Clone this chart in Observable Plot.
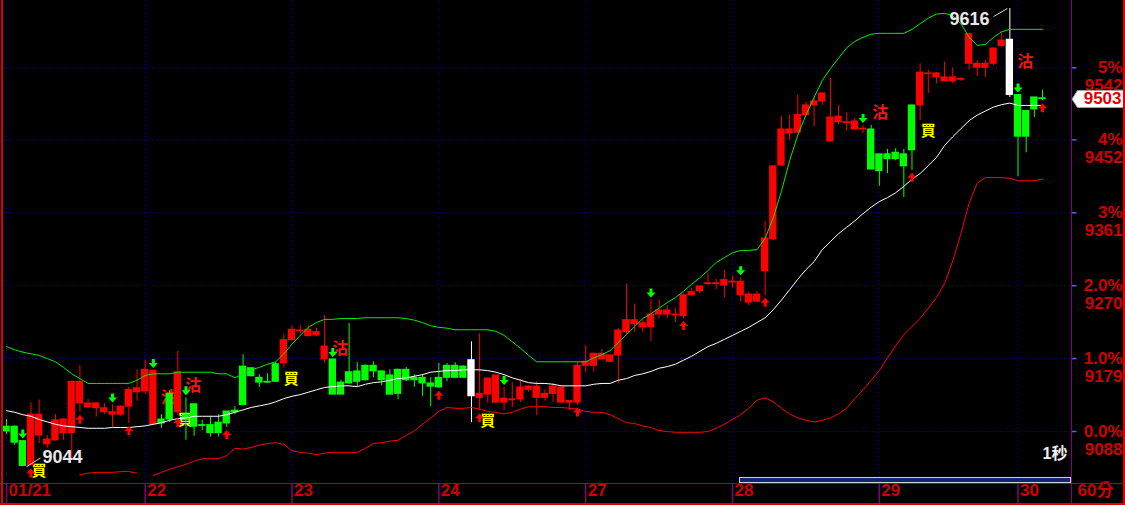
<!DOCTYPE html>
<html><head><meta charset="utf-8">
<script src="https://cdn.jsdelivr.net/npm/d3@7"></script>
<script src="https://cdn.jsdelivr.net/npm/@observablehq/plot@0.6"></script>
<style>
html,body{margin:0;padding:0;background:#000;}
#wrap{position:relative;width:1125px;height:505px;overflow:hidden;background:#000;}
#wrap svg{position:absolute;left:0;top:0;}
.chrome{position:absolute;pointer-events:none;box-sizing:border-box;}
</style></head><body>
<div id="wrap"></div>
<script>
// ---- data (60-minute bars) ----
const dayLabels = ["01/21","22","23","24","27","28","29","30"];
const dayStart  = [0,17,35,53,71,89,107,124];
const tickPrices = [9088,9179,9270,9361,9452,9542];
const tickPct    = ["0.0%","1.0%","2.0%","3%","4%","5%"];

const open = [9094,9094,9076,9046,9083,9072,9077,9086,9086,9123,
9118,9117,9112,9109,9109,9119,9137,9138,9097,9103,
9135,9112,9109,9122,9096,9096,9099,9113,9114,9169,
9167,9155,9150,9172,9173,9202,9213,9207,9208,9178,
9178,9149,9162,9163,9170,9170,9163,9158,9165,9165,
9155,9155,9148,9155,9170,9170,9169,9177,9130,9134,
9124,9124,9127,9128,9140,9130,9130,9135,9124,9124,
9124,9170,9170,9178,9175,9183,9212,9222,9218,9218,
9234,9234,9233,9232,9258,9263,9272,9272,9270,9274,
9258,9249,9250,9288,9328,9420,9460,9461,9483,9495,
9500,9450,9474,9473,9465,9465,9465,9434,9434,9436,
9434,9439,9495,9534,9530,9525,9525,9527,9547,9542,
9542,9547,9569,9577,9508,9488,9505,9504];
const high = [9103,9095,9076,9124,9127,9083,9109,9104,9151,9170,
9128,9124,9123,9121,9120,9143,9165,9177,9164,9109,
9139,9188,9130,9122,9102,9107,9109,9113,9119,9184,
9167,9159,9160,9174,9209,9220,9220,9220,9217,9233,
9178,9152,9223,9174,9171,9175,9164,9165,9166,9168,
9159,9159,9155,9173,9173,9174,9170,9200,9210,9155,
9158,9143,9149,9153,9145,9150,9140,9148,9143,9126,
9174,9195,9186,9190,9183,9217,9272,9247,9228,9252,
9252,9245,9242,9260,9267,9269,9285,9278,9289,9282,
9280,9262,9263,9350,9419,9481,9483,9508,9499,9505,
9510,9529,9495,9486,9479,9470,9470,9434,9440,9441,
9440,9495,9547,9539,9536,9549,9542,9530,9585,9551,
9551,9567,9586,9616,9508,9488,9505,9514];
const low = [9084,9071,9044,9045,9073,9067,9076,9077,9054,9112,
9117,9106,9109,9093,9107,9098,9126,9134,9097,9092,
9099,9108,9077,9082,9089,9081,9081,9093,9109,9120,
9156,9143,9148,9150,9167,9201,9209,9206,9207,9173,
9134,9134,9147,9144,9151,9155,9145,9134,9128,9150,
9143,9132,9119,9142,9150,9154,9155,9099,9114,9123,
9124,9114,9118,9124,9137,9108,9126,9124,9124,9114,
9121,9162,9162,9178,9175,9148,9208,9212,9212,9200,
9229,9229,9224,9229,9258,9260,9270,9265,9255,9267,
9250,9245,9250,9258,9326,9420,9451,9461,9482,9468,
9495,9450,9471,9463,9465,9460,9415,9394,9410,9426,
9380,9414,9476,9510,9522,9525,9522,9525,9539,9531,
9530,9545,9568,9505,9406,9436,9480,9501];
const close = [9088,9074,9045,9109,9109,9078,9102,9103,9150,9150,
9123,9123,9117,9112,9119,9140,9142,9165,9164,9098,
9103,9162,9102,9094,9095,9086,9086,9098,9112,9121,
9157,9149,9149,9150,9202,9215,9214,9215,9212,9194,
9134,9134,9148,9150,9152,9163,9152,9134,9135,9152,
9152,9148,9144,9143,9155,9155,9155,9132,9135,9154,
9158,9129,9128,9143,9144,9144,9135,9144,9143,9126,
9170,9175,9185,9185,9183,9214,9227,9227,9223,9234,
9239,9239,9234,9258,9262,9269,9273,9273,9277,9275,
9275,9259,9259,9329,9419,9465,9465,9483,9495,9500,
9510,9480,9481,9474,9475,9466,9415,9413,9428,9428,
9419,9495,9536,9535,9535,9530,9530,9528,9584,9547,
9547,9566,9576,9508,9456,9456,9490,9503];

// Bollinger bands
const upper = [9194,9190,9187,9185,9183,9179,9175,9168,9160,9154,
9148,9148,9148,9148,9148,9148,9152,9158,9160,9160,
9160,9162,9162,9162,9162,9162,9160,9160,9155,9160,
9165,9168,9172,9175,9185,9197,9208,9218,9224,9228,
9228,9229,9229,9229,9230,9230,9230,9230,9230,9229,
9227,9224,9220,9218,9217,9215,9215,9215,9215,9215,
9213,9208,9200,9192,9183,9175,9175,9175,9175,9175,
9175,9175,9180,9184,9189,9199,9209,9219,9229,9235,
9242,9249,9255,9263,9272,9280,9289,9299,9305,9311,
9314,9314,9315,9329,9355,9388,9426,9458,9483,9505,
9526,9541,9554,9567,9575,9580,9584,9585,9585,9585,
9585,9590,9597,9604,9609,9610,9607,9597,9580,9570,
9571,9580,9587,9590,9590,9590,9590,9590];
const middle = [9114,9112,9109,9107,9103,9100,9097,9095,9094,9093,
9092,9092,9092,9093,9093,9093,9094,9095,9097,9099,
9102,9104,9105,9107,9107,9107,9107,9109,9112,9115,
9118,9120,9122,9125,9129,9132,9134,9137,9140,9143,
9144,9145,9145,9144,9147,9149,9150,9152,9154,9155,
9157,9159,9162,9163,9164,9164,9165,9165,9165,9164,
9162,9159,9155,9152,9149,9148,9148,9147,9145,9145,
9145,9145,9147,9148,9148,9152,9154,9158,9160,9163,
9167,9169,9172,9177,9182,9188,9194,9198,9203,9208,
9213,9218,9224,9230,9240,9252,9265,9278,9290,9300,
9315,9325,9335,9343,9351,9360,9368,9375,9380,9386,
9394,9403,9410,9420,9430,9445,9456,9466,9476,9483,
9488,9493,9496,9498,9495,9495,9495,9495];
const lowerBand = [9034,null,null,null,null,null,null,null,null,9034,
9036,9037,9037,9037,9038,9038,9036,null,9033,9037,
9041,9044,9047,9051,9054,9054,9054,9058,9067,9066,
9068,9071,9073,9074,9072,9064,9062,9061,9059,9061,
9062,9062,9062,9062,9067,9073,9074,9076,9077,9083,
9089,9097,9105,9113,9118,9117,9117,9118,9116,9113,
9112,9110,9112,9116,9119,9119,9119,9118,9118,9117,
9116,9113,9112,9112,9109,9104,9099,9098,9095,9093,
9089,9088,9087,9087,9087,9087,9088,9092,9097,9103,
9109,9117,9127,9130,9125,9117,9110,9105,9102,9100,
9102,9105,9110,9117,9129,9140,9152,9164,9180,9195,
9209,9219,9229,9242,9255,9273,9301,9335,9373,9398,
9405,9405,9405,9404,9401,9401,9401,9403];

// trading state runs: L = long (red), S = short (green), X = switch bar (white)
const stateRuns = [["S",3],["L",16],["S",2],["L",1],["S",12],["L",6],["S",17],["X",1],
                   ["L",48],["S",6],["L",11],["X",1],["S",4]];
const sellArrowBars = [2,13,18,22,40,61,79,90,105,124];
const buyArrowBars  = [3,9,15,21,27,53,58,70,83,93,111,127];
const sellLabels = [[19.9,9130],[22.9,9145],[40.9,9191],[107.1,9486],[124.9,9549]];
const buyLabels  = [[3.98,9038],[21.9,9102],[34.9,9153],[59.0,9101],[113.0,9463]];
const lowMark  = {text:"9044", i1:2.45, v1:9044, i2:4.17, v2:9055, ti:4.41, tv:9056};
const highMark = {text:"9616", i1:122.7, v1:9616, i2:121.0, v2:9606, ti:120.5, tv:9602};

// ---- build ----
const colorOf = {L:"#ff0000", S:"#00ff00", X:"#ffffff"};
const state = stateRuns.flatMap(([s,k]) => Array(k).fill(s));
const bars = open.map((o,i) => ({i, o, h:high[i], l:low[i], c:close[i], col:colorOf[state[i]]}));
const series = arr => arr.map((v,i) => ({i, v}));
const lastClose = close[close.length-1];

const arrowDown = {draw(ctx){ctx.moveTo(-1.5,-4.5);ctx.lineTo(1.5,-4.5);ctx.lineTo(1.5,-0.5);ctx.lineTo(4.5,-0.5);ctx.lineTo(0,4.5);ctx.lineTo(-4.5,-0.5);ctx.lineTo(-1.5,-0.5);ctx.closePath();}};
const arrowUp = {draw(ctx){ctx.moveTo(-1.5,4.5);ctx.lineTo(1.5,4.5);ctx.lineTo(1.5,0.5);ctx.lineTo(4.5,0.5);ctx.lineTo(0,-4.5);ctx.lineTo(-4.5,0.5);ctx.lineTo(-1.5,0.5);ctx.closePath();}};
const vStub = {draw(ctx){ctx.moveTo(0,0);ctx.lineTo(0,20);}};
const hStub = {draw(ctx){ctx.moveTo(0,0);ctx.lineTo(5,0);}};
const tag = {draw(ctx){ctx.moveTo(0.5,0);ctx.lineTo(6,-8.5);ctx.lineTo(52,-8.5);ctx.lineTo(52,8.5);ctx.lineTo(6,8.5);ctx.closePath();}};

const axisFont = {fill:"#d00000", fontSize:17, fontWeight:"bold", fontFamily:"Liberation Sans, Arial, Noto Sans CJK TC, sans-serif"};
const markFont = {fill:"#e8e8e8", fontSize:18, fontWeight:"bold", fontFamily:"Liberation Sans, Arial, sans-serif"};
const grid = {stroke:"#0000b8", strokeDasharray:"1,3", strokeWidth:1};

const chart = Plot.plot({
  width:1125, height:505,
  marginLeft:4, marginRight:54, marginTop:0, marginBottom:22,
  style:{background:"#000", color:"#fff", overflow:"visible"},
  x:{domain:[0,127], range:[6,1042], axis:null},
  y:{domain:[9088,9542], range:[431,67.3], axis:null},
  color:{type:"identity"},
  marks:[
    Plot.ruleY(tickPrices, {y:d=>d, ...grid}),
    Plot.ruleX(dayStart, {x:d=>d, ...grid}),
    Plot.text(sellLabels, {x:d=>d[0], y:d=>d[1], text:()=>"沽", fill:"#ff1010", fontSize:16, fontWeight:"bold", fontFamily:"Noto Sans CJK TC, sans-serif"}),
    Plot.text(buyLabels, {x:d=>d[0], y:d=>d[1], text:()=>"買", fill:"#ffff00", fontSize:15, fontWeight:"bold", fontFamily:"Noto Sans CJK TC, sans-serif", clip:true}),
    Plot.ruleX(bars, {x:"i", y1:"l", y2:"h", stroke:"col", strokeWidth:1}),
    Plot.rect(bars, {x1:d=>d.i-0.45, x2:d=>d.i+0.45, y1:"o", y2:"c", fill:"col", insetTop:-0.5, insetBottom:-0.5}),
    Plot.line(series(upper), {x:"i", y:"v", stroke:"#00ee00", strokeWidth:1}),
    Plot.line(series(middle), {x:"i", y:"v", stroke:"#ffffff", strokeWidth:1}),
    Plot.line(series(lowerBand), {x:"i", y:"v", stroke:"#ff0000", strokeWidth:1, clip:true}),
    Plot.dot(sellArrowBars, {x:d=>d, y:d=>high[d], dy:-7, symbol:arrowDown, fill:"#00ff00", r:5}),
    Plot.dot(buyArrowBars, {x:d=>d, y:d=>low[d], dy:7, symbol:arrowUp, fill:"#ff0000", r:5}),
    Plot.link([lowMark, highMark], {x1:"i1", y1:"v1", x2:"i2", y2:"v2", stroke:"#d8d8d8", strokeWidth:1}),
    Plot.text([lowMark], {x:"ti", y:"tv", text:"text", textAnchor:"start", ...markFont}),
    Plot.text([highMark], {x:"ti", y:"tv", text:"text", textAnchor:"end", ...markFont}),
    Plot.text(["1秒"], {frameAnchor:"bottom-right", text:d=>d, dx:-4, dy:-25, textAnchor:"end", fill:"#f0f0f0", fontSize:16, fontWeight:"bold", fontFamily:"Liberation Sans, Noto Sans CJK TC, sans-serif"}),
    // right axis
    Plot.dot(tickPrices, {y:d=>d, frameAnchor:"right", symbol:hStub, stroke:"#6060e0", fill:"none"}),
    Plot.text(tickPrices, {y:d=>d, frameAnchor:"right", text:(d,i)=>tickPct[i], dx:51, textAnchor:"end", ...axisFont}),
    Plot.text(tickPrices, {y:d=>d, frameAnchor:"right", text:d=>String(d), dx:51, dy:18, textAnchor:"end", ...axisFont}),
    Plot.dot([lastClose], {y:d=>d, frameAnchor:"right", symbol:tag, fill:"#ffffff", stroke:"#a0a0a0", strokeWidth:1}),
    Plot.text([lastClose], {y:d=>d, frameAnchor:"right", text:d=>String(d), dx:50, textAnchor:"end", ...axisFont, fill:"#e00000"}),
    // bottom axis
    Plot.dot(dayStart, {x:d=>d, frameAnchor:"bottom", symbol:vStub, stroke:"#800080", fill:"none"}),
    Plot.text(dayStart, {x:d=>d, frameAnchor:"bottom", text:(d,i)=>dayLabels[i], dx:2, dy:12, textAnchor:"start", ...axisFont}),
    Plot.text(["60分"], {frameAnchor:"bottom-right", text:d=>d, dx:24, dy:12, textAnchor:"middle", ...axisFont})
  ]
});

const wrap = document.getElementById("wrap");
wrap.appendChild(chart);
const chrome = [
  "left:0;top:483px;width:1125px;height:1px;background:#800080;",
  "left:1071px;top:0;width:1px;height:505px;background:#800080;",
  "left:739px;top:477px;width:332px;height:6px;background:#0a2a6e;border:1px solid #d0d0d0;",
  "left:1px;top:0;width:2px;height:505px;background:#e00000;",
  "left:0;top:503px;width:1125px;height:2px;background:#e00000;",
  "left:1123px;top:0;width:2px;height:505px;background:#e00000;"
];
for (const css of chrome) {
  const d = document.createElement("div");
  d.className = "chrome";
  d.style.cssText = css;
  wrap.appendChild(d);
}
</script>
</body></html>
